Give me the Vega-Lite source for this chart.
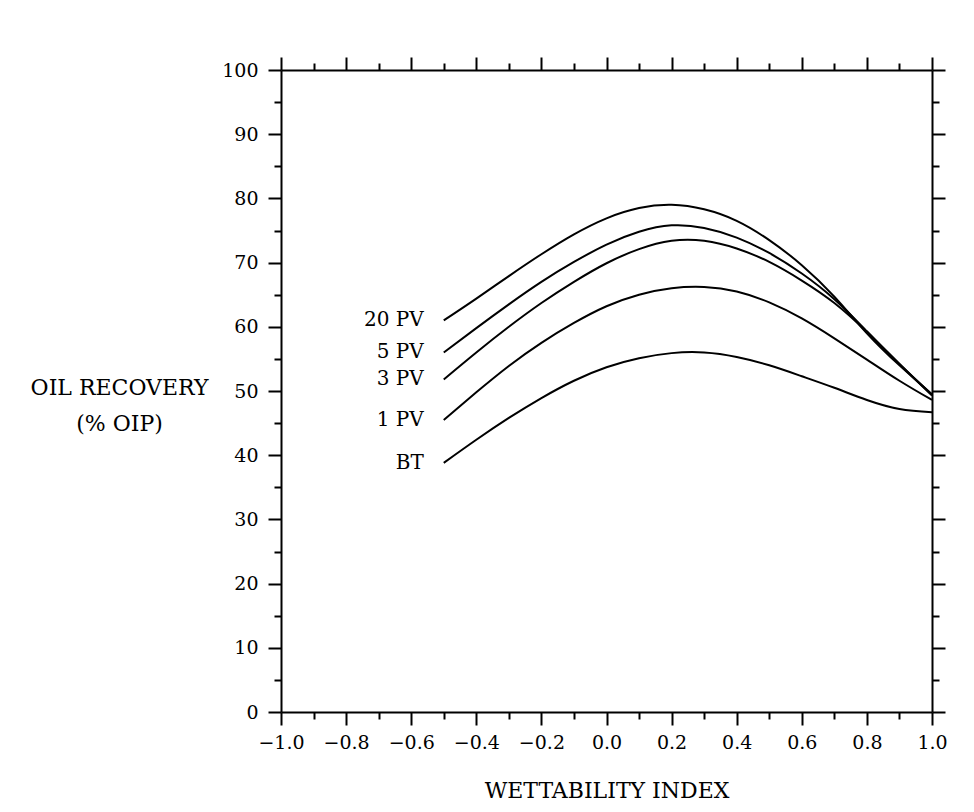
{
  "$schema": "https://vega.github.io/schema/vega-lite/v6.json",
  "width": 651,
  "height": 642,
  "autosize": "none",
  "padding": {"left": 281, "top": 70, "right": 42, "bottom": 100},
  "background": "white",
  "config": {
    "view": {"stroke": null},
    "font": "DejaVu Serif",
    "axis": {
      "domainColor": "black",
      "domainWidth": 2,
      "tickColor": "black",
      "tickWidth": 2,
      "labelColor": "black",
      "labelFont": "DejaVu Serif",
      "labelFontSize": 19,
      "titleFont": "DejaVu Serif",
      "titleFontWeight": "normal",
      "titleColor": "black",
      "titleFontSize": 22,
      "grid": false
    }
  },
  "datasets": {
    "curves": [
      {"x": -0.5, "y": 61.0, "series": "20 PV"}, {"x": -0.4, "y": 64.4, "series": "20 PV"}, {"x": -0.3, "y": 67.9, "series": "20 PV"}, {"x": -0.2, "y": 71.3, "series": "20 PV"}, {"x": -0.1, "y": 74.4, "series": "20 PV"}, {"x": 0.0, "y": 76.9, "series": "20 PV"}, {"x": 0.1, "y": 78.5, "series": "20 PV"}, {"x": 0.2, "y": 79.0, "series": "20 PV"}, {"x": 0.3, "y": 78.3, "series": "20 PV"}, {"x": 0.4, "y": 76.5, "series": "20 PV"}, {"x": 0.5, "y": 73.5, "series": "20 PV"}, {"x": 0.6, "y": 69.6, "series": "20 PV"}, {"x": 0.7, "y": 64.7, "series": "20 PV"}, {"x": 0.8, "y": 59.0, "series": "20 PV"}, {"x": 0.9, "y": 54.0, "series": "20 PV"}, {"x": 1.0, "y": 49.5, "series": "20 PV"},
      {"x": -0.5, "y": 56.0, "series": "5 PV"}, {"x": -0.4, "y": 59.8, "series": "5 PV"}, {"x": -0.3, "y": 63.5, "series": "5 PV"}, {"x": -0.2, "y": 67.0, "series": "5 PV"}, {"x": -0.1, "y": 70.1, "series": "5 PV"}, {"x": 0.0, "y": 72.8, "series": "5 PV"}, {"x": 0.1, "y": 74.8, "series": "5 PV"}, {"x": 0.2, "y": 75.8, "series": "5 PV"}, {"x": 0.3, "y": 75.4, "series": "5 PV"}, {"x": 0.4, "y": 73.9, "series": "5 PV"}, {"x": 0.5, "y": 71.5, "series": "5 PV"}, {"x": 0.6, "y": 68.3, "series": "5 PV"}, {"x": 0.7, "y": 64.3, "series": "5 PV"}, {"x": 0.8, "y": 59.3, "series": "5 PV"}, {"x": 0.9, "y": 54.2, "series": "5 PV"}, {"x": 1.0, "y": 49.4, "series": "5 PV"},
      {"x": -0.5, "y": 51.8, "series": "3 PV"}, {"x": -0.4, "y": 56.0, "series": "3 PV"}, {"x": -0.3, "y": 60.0, "series": "3 PV"}, {"x": -0.2, "y": 63.7, "series": "3 PV"}, {"x": -0.1, "y": 67.0, "series": "3 PV"}, {"x": 0.0, "y": 69.9, "series": "3 PV"}, {"x": 0.1, "y": 72.1, "series": "3 PV"}, {"x": 0.2, "y": 73.4, "series": "3 PV"}, {"x": 0.3, "y": 73.4, "series": "3 PV"}, {"x": 0.4, "y": 72.2, "series": "3 PV"}, {"x": 0.5, "y": 70.1, "series": "3 PV"}, {"x": 0.6, "y": 67.2, "series": "3 PV"}, {"x": 0.7, "y": 63.7, "series": "3 PV"}, {"x": 0.8, "y": 59.2, "series": "3 PV"}, {"x": 0.9, "y": 54.2, "series": "3 PV"}, {"x": 1.0, "y": 49.3, "series": "3 PV"},
      {"x": -0.5, "y": 45.5, "series": "1 PV"}, {"x": -0.4, "y": 49.8, "series": "1 PV"}, {"x": -0.3, "y": 53.9, "series": "1 PV"}, {"x": -0.2, "y": 57.5, "series": "1 PV"}, {"x": -0.1, "y": 60.6, "series": "1 PV"}, {"x": 0.0, "y": 63.2, "series": "1 PV"}, {"x": 0.1, "y": 65.0, "series": "1 PV"}, {"x": 0.2, "y": 66.0, "series": "1 PV"}, {"x": 0.3, "y": 66.2, "series": "1 PV"}, {"x": 0.4, "y": 65.5, "series": "1 PV"}, {"x": 0.5, "y": 63.8, "series": "1 PV"}, {"x": 0.6, "y": 61.3, "series": "1 PV"}, {"x": 0.7, "y": 58.2, "series": "1 PV"}, {"x": 0.8, "y": 54.9, "series": "1 PV"}, {"x": 0.9, "y": 51.6, "series": "1 PV"}, {"x": 1.0, "y": 48.6, "series": "1 PV"},
      {"x": -0.5, "y": 38.8, "series": "BT"}, {"x": -0.4, "y": 42.4, "series": "BT"}, {"x": -0.3, "y": 45.8, "series": "BT"}, {"x": -0.2, "y": 48.9, "series": "BT"}, {"x": -0.1, "y": 51.6, "series": "BT"}, {"x": 0.0, "y": 53.7, "series": "BT"}, {"x": 0.1, "y": 55.1, "series": "BT"}, {"x": 0.2, "y": 55.9, "series": "BT"}, {"x": 0.3, "y": 56.0, "series": "BT"}, {"x": 0.4, "y": 55.3, "series": "BT"}, {"x": 0.5, "y": 54.0, "series": "BT"}, {"x": 0.6, "y": 52.3, "series": "BT"}, {"x": 0.7, "y": 50.5, "series": "BT"}, {"x": 0.8, "y": 48.6, "series": "BT"}, {"x": 0.9, "y": 47.2, "series": "BT"}, {"x": 1.0, "y": 46.7, "series": "BT"}
    ],
    "labels": [
      {"x": -0.5, "y": 61.0, "label": "20 PV"},
      {"x": -0.5, "y": 56.0, "label": "5 PV"},
      {"x": -0.5, "y": 51.8, "label": "3 PV"},
      {"x": -0.5, "y": 45.5, "label": "1 PV"},
      {"x": -0.5, "y": 38.8, "label": "BT"}
    ]
  },
  "resolve": {"axis": {"x": "independent", "y": "independent"}},
  "layer": [
    {
      "data": {"name": "curves"},
      "mark": {"type": "line", "interpolate": "natural", "color": "black", "strokeWidth": 2},
      "encoding": {
        "x": {
          "field": "x", "type": "quantitative",
          "scale": {"domain": [-1, 1], "nice": false, "zero": false},
          "axis": {
            "orient": "bottom",
            "values": [-1, -0.9, -0.8, -0.7, -0.6, -0.5, -0.4, -0.3, -0.2, -0.1, 0, 0.1, 0.2, 0.3, 0.4, 0.5, 0.6, 0.7, 0.8, 0.9, 1],
            "labelExpr": "abs(round(datum.value*10)) % 2 == 0 ? format(datum.value, '.1f') : ''",
            "tickSize": {"condition": {"test": "abs(round(datum.value*10)) % 2 == 0", "value": 13}, "value": 7},
            "labelPadding": 8,
            "labelFlush": false,
            "labelOverlap": false,
            "title": "WETTABILITY INDEX",
            "titleY": 85,
            "titleBaseline": "alphabetic"
          }
        },
        "y": {
          "field": "y", "type": "quantitative",
          "scale": {"domain": [0, 100], "nice": false},
          "axis": {
            "orient": "left",
            "values": [0, 5, 10, 15, 20, 25, 30, 35, 40, 45, 50, 55, 60, 65, 70, 75, 80, 85, 90, 95, 100],
            "labelExpr": "datum.value % 10 == 0 ? datum.label : ''",
            "tickSize": {"condition": {"test": "datum.value % 10 == 0", "value": 13}, "value": 7},
            "labelPadding": 10,
            "labelFlush": false,
            "labelOverlap": false,
            "title": ["OIL RECOVERY", "(% OIP)"],
            "titleAngle": 0,
            "titleAlign": "center",
            "titleBaseline": "middle",
            "titleLineHeight": 36,
            "titleX": -162,
            "titleY": 317
          }
        },
        "detail": {"field": "series", "type": "nominal"}
      }
    },
    {
      "data": {"name": "labels"},
      "mark": {"type": "text", "align": "right", "baseline": "middle", "dx": -20, "font": "DejaVu Serif", "fontSize": 20, "color": "black"},
      "encoding": {
        "x": {
          "field": "x", "type": "quantitative",
          "scale": {"domain": [-1, 1], "nice": false, "zero": false},
          "axis": {
            "orient": "top",
            "values": [-1, -0.9, -0.8, -0.7, -0.6, -0.5, -0.4, -0.3, -0.2, -0.1, 0, 0.1, 0.2, 0.3, 0.4, 0.5, 0.6, 0.7, 0.8, 0.9, 1],
            "labels": false,
            "tickSize": {"condition": {"test": "abs(round(datum.value*10)) % 2 == 0", "value": 13}, "value": 7},
            "title": null
          }
        },
        "y": {
          "field": "y", "type": "quantitative",
          "scale": {"domain": [0, 100], "nice": false},
          "axis": {
            "orient": "right",
            "values": [0, 5, 10, 15, 20, 25, 30, 35, 40, 45, 50, 55, 60, 65, 70, 75, 80, 85, 90, 95, 100],
            "labels": false,
            "tickSize": {"condition": {"test": "datum.value % 10 == 0", "value": 13}, "value": 7},
            "title": null
          }
        },
        "text": {"field": "label", "type": "nominal"}
      }
    }
  ]
}
